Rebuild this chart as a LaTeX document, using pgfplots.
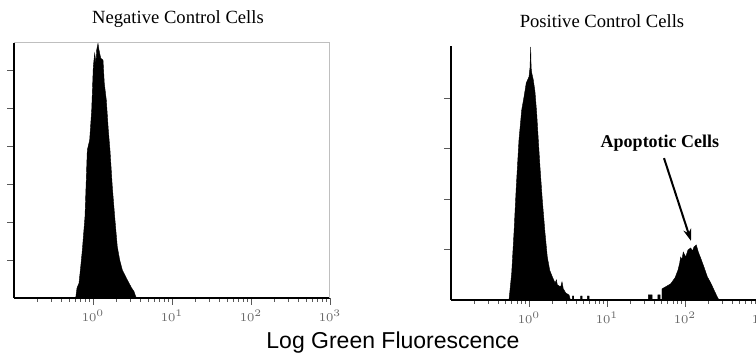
\documentclass[border=0pt]{standalone}
\usepackage{pgfplots}
\pgfplotsset{compat=1.18}
\usepackage{fontspec}
\setmainfont{Liberation Serif}
\newfontfamily\labelsans{Liberation Sans}
\usetikzlibrary{arrows.meta}
\begin{document}
\begin{tikzpicture}
\useasboundingbox (0,0) rectangle (378pt,177pt);
\clip (0,0) rectangle (378pt,177pt);
\pgfplotsset{
  flowstyle/.style={
    scale only axis,
    anchor=south west,
    xmin=0.1, xmax=1000,
    ymin=0,
    axis lines=left,
    axis line style={-, black, line width=0.7pt},
    tick align=outside,
    xtick={1,10,100,1000},
    minor xtick={0.2,0.3,0.4,0.5,0.6,0.7,0.8,0.9,2,3,4,5,6,7,8,9,20,30,40,50,60,70,80,90,200,300,400,500,600,700,800,900},
    major tick length=3.5pt,
    minor tick length=1.8pt,
    every tick/.style={black!65, line width=0.4pt},
    yticklabels={},
    xticklabel style={font=\fontsize{6}{7}\selectfont, text=black!60, yshift=1pt},
  }
}
% Left panel: negative control
\begin{semilogxaxis}[flowstyle,
  at={(7pt,28pt)}, width=158pt, height=127.5pt,
  ymax=6.71, ytick={1,2,3,4,5,6}]
\addplot[fill=black, draw=black, line width=0.2pt] coordinates {
(0.604,0)(0.627,0.26)(0.665,0.39)(0.699,0.82)(0.733,1.26)(0.792,2.14)(0.847,3.89)(0.908,4.16)(0.963,4.95)(1.009,6.09)(1.051,6.44)(1.091,6.18)(1.114,6.53)(1.157,6.70)(1.191,6.53)(1.252,6.31)(1.339,6.26)(1.390,5.65)(1.474,5.21)(1.563,4.42)(1.641,3.89)(1.755,2.93)(1.882,2.14)(2.030,1.35)(2.178,1.00)(2.349,0.74)(2.594,0.56)(2.857,0.39)(3.090,0.26)(3.304,0.17)(3.471,0.04)(3.575,0)
} \closedcycle;
\draw[black!25, line width=0.5pt] (rel axis cs:0,1) -- (rel axis cs:1,1) -- (rel axis cs:1,0);
\end{semilogxaxis}
\node[font=\fontsize{9.3}{11}\selectfont] at (89pt,167.3pt) {Negative Control Cells};
% Right panel: positive control
\begin{semilogxaxis}[flowstyle,
  at={(225.5pt,27pt)}, width=156pt, height=127pt,
  ymax=5.03, ytick={1,2,3,4}]
\addplot[fill=black, draw=black, line width=0.2pt] coordinates {
(0.554,0)(0.571,0.20)(0.600,0.53)(0.642,1.33)(0.687,2.24)(0.744,3.17)(0.806,3.76)(0.863,4.02)(0.923,4.30)(1.0,4.42)(1.03,4.6)(1.051,5.01)(1.065,4.6)(1.083,4.50)(1.135,4.36)(1.194,4.12)(1.255,3.70)(1.316,3.17)(1.384,2.63)(1.481,1.98)(1.604,1.33)(1.717,0.85)(1.843,0.59)(1.990,0.46)(2.154,0.34)(2.25,0.40)(2.306,0.30)(2.548,0.26)(2.65,0.36)(2.75,0.22)(2.810,0.20)(2.953,0.14)(3.257,0.10)(3.4,0)(3.6,0)(3.6,0.08)(3.75,0.08)(3.75,0)(4.6,0)(4.6,0.08)(4.8,0.08)(4.8,0)(5.6,0)(5.6,0.08)(5.9,0.08)(5.9,0)
} \closedcycle;
\addplot[fill=black, draw=black, line width=0.2pt] coordinates {
(34,0)(34,0.1)(38,0.1)(38,0)(45,0)(45,0.1)(48,0.1)(48,0)(50.7,0)(50.7,0.22)(65.6,0.32)(74.5,0.44)(81.3,0.59)(85.5,0.73)(88,0.85)(91.6,0.80)(95,0.95)(102.1,0.85)(109.2,0.99)(118.3,1.03)(125,0.97)(130.4,1.05)(139.6,1.09)(148.2,0.95)(158.9,0.83)(175.4,0.65)(193.3,0.46)(213.5,0.34)(235.3,0.20)(259.4,0.06)(272.9,0)
} \closedcycle;
\draw[-{Stealth[length=6pt,width=4pt]}, line width=1pt] (axis cs:53.8,2.81) -- (axis cs:119.4,1.17);
\node[font=\bfseries\fontsize{9}{11}\selectfont] at (axis cs:47.8,3.10) {Apoptotic Cells};
\end{semilogxaxis}
\node[font=\fontsize{9.3}{11}\selectfont] at (301pt,166.5pt) {Positive Control Cells};
\node[font=\labelsans\fontsize{11.5}{13}\selectfont] at (196.5pt,5.5pt) {Log Green Fluorescence};
\end{tikzpicture}
\end{document}
